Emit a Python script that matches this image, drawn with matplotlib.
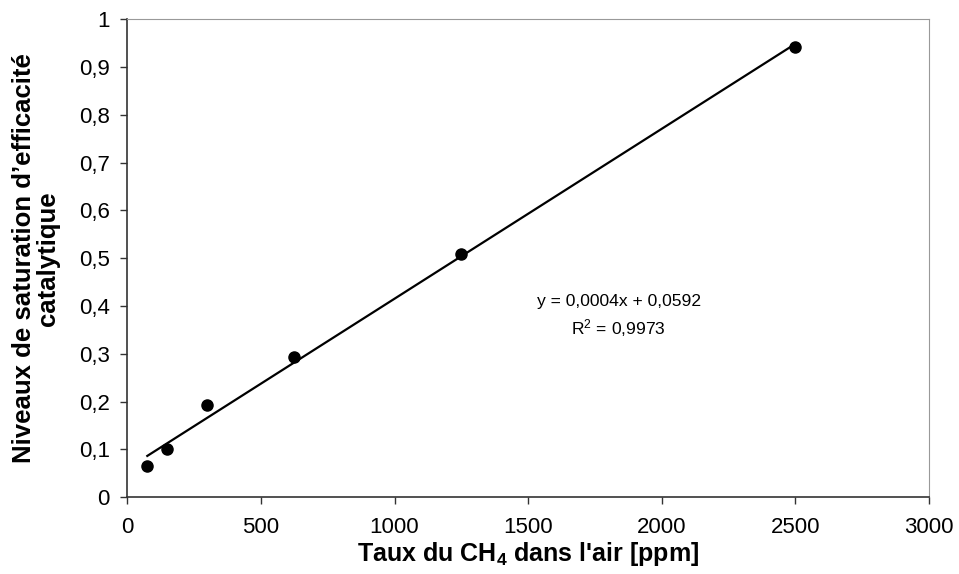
import numpy as np
import matplotlib
matplotlib.use("Agg")
import matplotlib.pyplot as plt

plt.rcParams["font.family"] = ["Liberation Sans", "DejaVu Sans"]
plt.rcParams["mathtext.default"] = "regular"

# data
ch4_ppm = [75, 150, 300, 625, 1250, 2500]
saturation = [0.065, 0.100, 0.193, 0.293, 0.508, 0.942]
x_ticks = [0, 500, 1000, 1500, 2000, 2500, 3000]
y_ticks = [0, 0.1, 0.2, 0.3, 0.4, 0.5, 0.6, 0.7, 0.8, 0.9, 1]
y_labels = ["0", "0,1", "0,2", "0,3", "0,4", "0,5", "0,6", "0,7", "0,8", "0,9", "1"]
equation = "y = 0,0004x + 0,0592"
r2_text = "R$^2$ = 0,9973"

fig = plt.figure(figsize=(9.59, 5.74), dpi=100)
ax = fig.add_axes([0.1327, 0.1336, 0.836, 0.833])

# linear trend line
slope, intercept = np.polyfit(ch4_ppm, saturation, 1)
xs = np.array([min(ch4_ppm), max(ch4_ppm)])
ax.plot(xs, slope * xs + intercept, color="black", lw=1.6, zorder=2)
ax.plot(ch4_ppm, saturation, "o", color="black", ms=8, zorder=3)

ax.set_xlim(0, 3000)
ax.set_ylim(0, 1)
ax.set_xticks(x_ticks)
ax.set_xticklabels([str(t) for t in x_ticks])
ax.set_yticks(y_ticks)
ax.set_yticklabels(y_labels)
ax.tick_params(labelsize=16, length=5, width=1, color="#333333")
ax.tick_params(axis="x", pad=9)
ax.tick_params(axis="y", pad=7.5)

for side in ["top", "right"]:
    ax.spines[side].set_color("#999999")
for side in ["left", "bottom"]:
    ax.spines[side].set_color("#333333")
    ax.spines[side].set_linewidth(1.2)

ax.set_xlabel("Taux du CH$_4$ dans l'air [ppm]", fontsize=18, fontweight="bold")
ax.xaxis.set_label_coords(0.5, -0.089)
ax.set_ylabel("Niveaux de saturation d\u2019efficacité\ncatalytique", fontsize=18.5,
              fontweight="bold", linespacing=1.0, va="center")
ax.yaxis.set_label_coords(-0.114, 0.5)

ax.text(0.613, 0.409, equation, transform=ax.transAxes, ha="center",
        va="center", fontsize=12.6)
ax.text(0.613, 0.354, r2_text, transform=ax.transAxes, ha="center",
        va="center", fontsize=12.6)

fig.savefig("out.png", dpi=100)
